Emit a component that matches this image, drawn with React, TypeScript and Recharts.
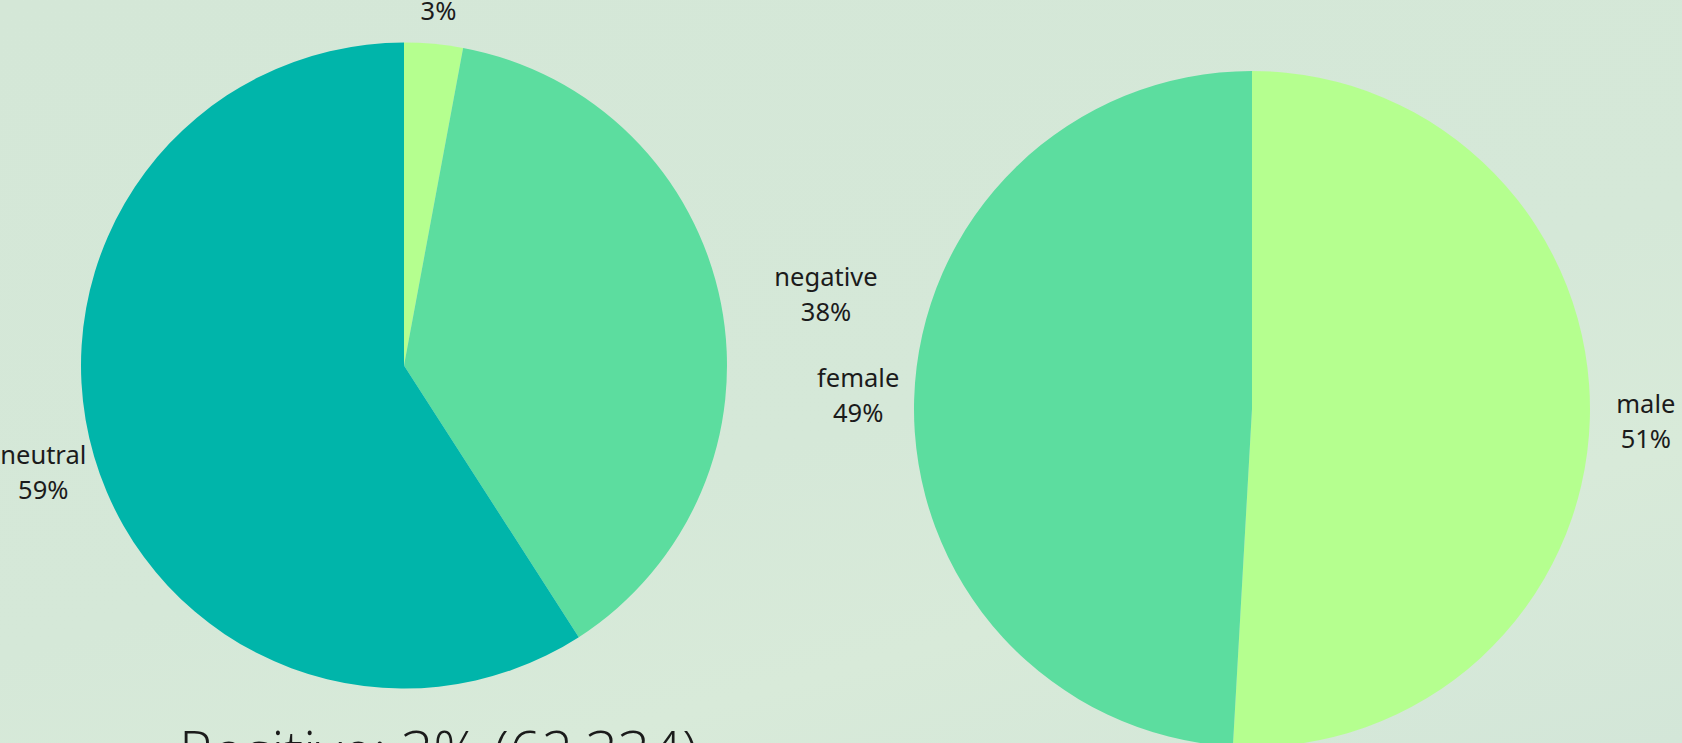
import React from "react";
import { PieChart, Pie, Cell } from "recharts";

// Sentiment share (percent of posts)
const sentimentNames = ["positive", "negative", "neutral"];
const sentimentValues = [2.93, 37.97, 59.1];
const sentimentColors = ["#b5ff8f", "#5cdd9f", "#00b5aa"];

// Gender share (percent)
const genderNames = ["male", "female"];
const genderValues = [50.9, 49.1];
const genderColors = ["#b5ff8f", "#5cdd9f"];

const positiveCaption = "Positive: 3% (62,334)";

const sentimentData = sentimentNames.map((name, i) => ({ name, value: sentimentValues[i] }));
const genderData = genderNames.map((name, i) => ({ name, value: genderValues[i] }));

// label placement beyond outer radius (layout only)
const sentimentLabelLayout: Record<string, { gap: number; dx: number; dy: number }> = {
  positive: { gap: 52, dx: 0, dy: 0 },
  negative: { gap: 105, dx: 2, dy: 10 },
  neutral: { gap: 53, dx: 0, dy: 0 },
};
const genderLabelLayout: Record<string, { gap: number; dx: number; dy: number }> = {
  male: { gap: 56, dx: 0, dy: 0 },
  female: { gap: 56, dx: 0, dy: -3 },
};

const RAD = Math.PI / 180;
const FONT = "'Noto Sans', 'Open Sans', sans-serif";

const makeLabel = (layout: Record<string, { gap: number; dx: number; dy: number }>) => (props: any) => {
  const { cx, cy, midAngle, outerRadius, name, percent } = props;
  const l = layout[name] ?? { gap: 50, dx: 0, dy: 0 };
  const r = outerRadius + l.gap;
  const x = cx + r * Math.cos(-midAngle * RAD) + l.dx;
  const y = cy + r * Math.sin(-midAngle * RAD) + l.dy;
  return (
    <text
      x={x}
      y={y}
      textAnchor="middle"
      fill="#1b1b1b"
      fontSize={25.5}
      fontFamily={FONT}
    >
      <tspan x={x} y={y - 17.5} dominantBaseline="central">{name}</tspan>
      <tspan x={x} y={y + 17.5} dominantBaseline="central">{`${Math.round(percent * 100)}%`}</tspan>
    </text>
  );
};

export default function App() {
  return (
    <div
      style={{
        position: "fixed",
        left: 0,
        top: 0,
        width: 1682,
        height: 743,
        overflow: "hidden",
        background: "linear-gradient(165deg, #d4e7d7 0%, #d5e8d8 55%, #d8ead9 75%, #d3e6d8 100%)",
      }}
    >
      <PieChart
        width={1682}
        height={743}
        margin={{ top: 0, right: 0, bottom: 0, left: 0 }}
        style={{ position: "absolute", left: 0, top: 0 }}
      >
        <Pie
          data={sentimentData}
          dataKey="value"
          nameKey="name"
          cx={404}
          cy={365.5}
          outerRadius={323}
          startAngle={90}
          endAngle={-270}
          stroke="none"
          isAnimationActive={false}
          labelLine={false}
          label={makeLabel(sentimentLabelLayout)}
        >
          {sentimentData.map((d, i) => (
            <Cell key={d.name} fill={sentimentColors[i]} />
          ))}
        </Pie>
        <Pie
          data={genderData}
          dataKey="value"
          nameKey="name"
          cx={1252}
          cy={409}
          outerRadius={338}
          startAngle={90}
          endAngle={-270}
          stroke="none"
          isAnimationActive={false}
          labelLine={false}
          label={makeLabel(genderLabelLayout)}
        >
          {genderData.map((d, i) => (
            <Cell key={d.name} fill={genderColors[i]} />
          ))}
        </Pie>
      </PieChart>
      <svg width={1682} height={743} style={{ position: "absolute", left: 0, top: 0, pointerEvents: "none" }}>
        <text x={179} y={772} fontSize={56.5} fontWeight={300} fill="#1b1b1b" fontFamily="'Open Sans', 'Noto Sans', sans-serif">
          {positiveCaption}
        </text>
      </svg>
    </div>
  );
}
